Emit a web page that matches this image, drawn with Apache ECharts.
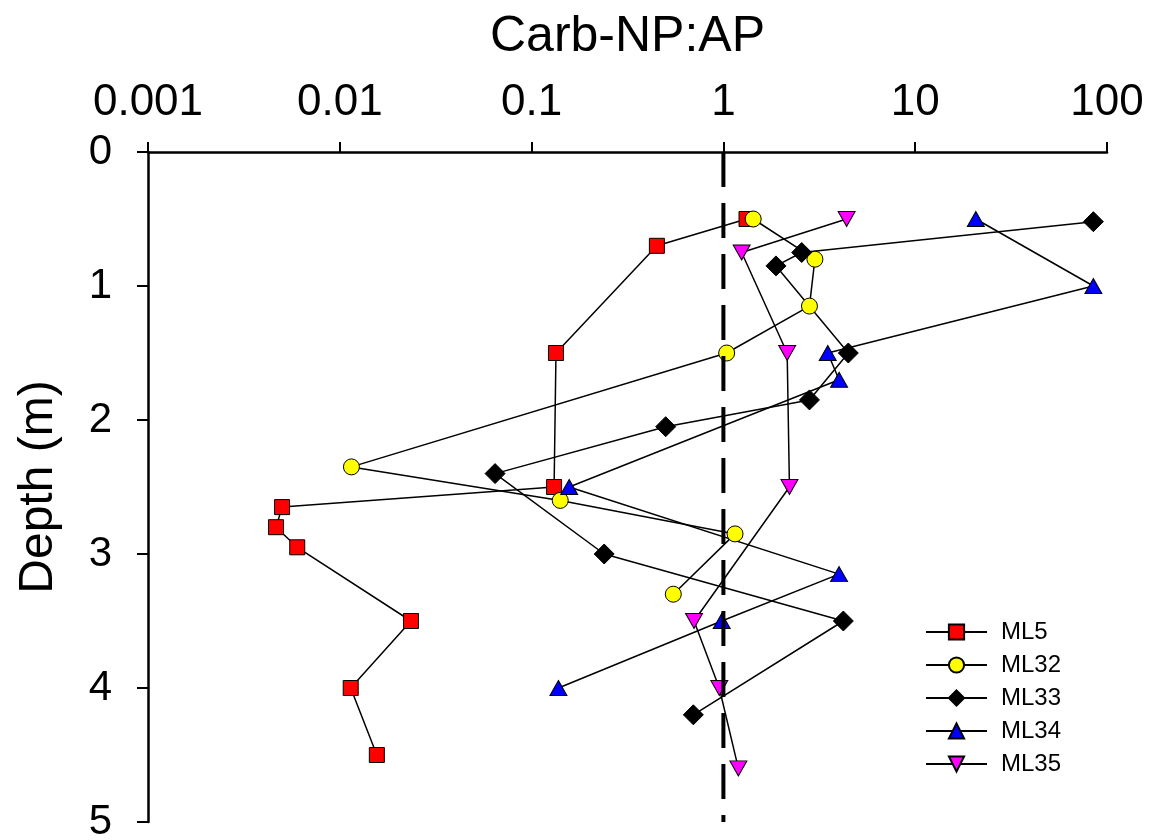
<!DOCTYPE html>
<html>
<head>
<meta charset="utf-8">
<script src="https://cdn.jsdelivr.net/npm/echarts@6/dist/echarts.min.js"></script>
<style>
html,body{margin:0;padding:0;background:#fff;}
#chart{width:1153px;height:840px;}
</style>
</head>
<body>
<div id="chart"></div>
<script>
// ---- data ----
const xTickLabels = ['0.001', '0.01', '0.1', '1', '10', '100'];
const yTickLabels = ['0', '1', '2', '3', '4', '5'];
const seriesNames = ['ML5', 'ML32', 'ML33', 'ML34', 'ML35'];

const ml5Depth  = [0.5, 0.7, 1.5, 2.5, 2.65, 2.8, 2.95, 3.5, 4.0, 4.5];
const ml5Value  = [1.32, 0.45, 0.134, 0.131, 0.0050, 0.00465, 0.0060, 0.0235, 0.0114, 0.0156];

const ml32Depth = [0.5, 0.8, 1.15, 1.5, 2.35, 2.6, 2.85, 3.3];
const ml32Value = [1.43, 3.0, 2.81, 1.04, 0.0115, 0.141, 1.15, 0.548];

const ml33Depth = [0.52, 0.75, 0.85, 1.5, 1.85, 2.05, 2.4, 3.0, 3.5, 4.2];
const ml33Value = [84.9, 2.56, 1.88, 4.48, 2.81, 0.50, 0.0645, 0.239, 4.22, 0.697];

const ml34Depth = [0.5, 1.0, 1.5, 1.7, 2.5, 3.15, 3.5, 4.0];
const ml34Value = [20.7, 84.9, 3.5, 4.01, 0.157, 4.01, 0.98, 0.138];

const ml35Depth = [0.5, 0.75, 1.5, 2.5, 3.5, 4.0, 4.6];
const ml35Value = [4.39, 1.245, 2.15, 2.21, 0.703, 0.952, 1.197];

const refLineValue = [1, 1];
const refLineDepth = [0, 5];

// ---- styling ----
const FONT = '"Liberation Sans", Arial, sans-serif';

function pairs(values, depths) {
  return values.map((v, i) => [v, depths[i]]);
}

function mkSeries(name, values, depths, symbol, size, color) {
  return {
    name: name,
    type: 'line',
    data: pairs(values, depths),
    symbol: symbol,
    symbolSize: size,
    showSymbol: true,
    showAllSymbol: true,
    itemStyle: { color: color, borderColor: '#000', borderWidth: 1 },
    lineStyle: { color: '#000', width: 1.5 },
    emphasis: { disabled: true },
    z: 2
  };
}

const chart = echarts.init(document.getElementById('chart'), null, { renderer: 'canvas' });

const option = {
  animation: false,
  backgroundColor: '#fff',
  grid: { left: 148, right: 46, top: 152, bottom: 18, containLabel: false, outerBoundsMode: 'none' },
  xAxis: {
    type: 'log',
    logBase: 10,
    min: 0.001,
    max: 100,
    position: 'top',
    name: 'Carb-NP:AP',
    nameLocation: 'middle',
    nameGap: 90,
    nameTextStyle: { fontSize: 50, color: '#000', fontFamily: FONT },
    axisLine: { show: true, lineStyle: { color: '#000', width: 2.5 } },
    axisTick: { show: true, inside: false, length: 10, lineStyle: { color: '#000', width: 2 } },
    minorTick: { show: false },
    splitLine: { show: false },
    axisLabel: {
      fontSize: 44, color: '#000', fontFamily: FONT, margin: 27,
      formatter: function (v) {
        const i = Math.round(Math.log10(v)) + 3;
        return xTickLabels[i] !== undefined ? xTickLabels[i] : '';
      }
    }
  },
  yAxis: {
    type: 'value',
    inverse: true,
    min: 0,
    max: 5,
    interval: 1,
    name: 'Depth (m)',
    nameLocation: 'middle',
    nameGap: 85,
    nameRotate: 90,
    nameTextStyle: { fontSize: 48, color: '#000', fontFamily: FONT },
    axisLine: { show: true, lineStyle: { color: '#000', width: 2.5 } },
    axisTick: { show: true, inside: false, length: 11, lineStyle: { color: '#000', width: 2 } },
    splitLine: { show: false },
    axisLabel: {
      fontSize: 42, color: '#000', fontFamily: FONT, margin: 36,
      formatter: function (v) {
        const i = Math.round(v);
        return yTickLabels[i] !== undefined ? yTickLabels[i] : '';
      }
    }
  },
  legend: {
    orient: 'vertical',
    left: 925,
    top: 620,
    padding: 0,
    itemWidth: 61,
    itemHeight: 19,
    itemGap: 9,
    data: seriesNames,
    textStyle: { fontSize: 24, color: '#000', fontFamily: FONT, padding: [0, 0, 0, 9] },
    selectedMode: false
  },
  series: [
    mkSeries(seriesNames[0], ml5Value, ml5Depth, 'rect', 15, '#ff0000'),
    mkSeries(seriesNames[1], ml32Value, ml32Depth, 'circle', 16, '#ffff00'),
    mkSeries(seriesNames[2], ml33Value, ml33Depth, 'diamond', 20, '#000000'),
    mkSeries(seriesNames[3], ml34Value, ml34Depth, 'triangle', [17, 15], '#0000ff'),
    mkSeries(seriesNames[4], ml35Value, ml35Depth, 'path://M0,0 L20,0 L10,18 Z', [17, 15], '#ff00ff'),
    {
      name: 'ref',
      type: 'line',
      data: pairs(refLineValue, refLineDepth),
      symbol: 'none',
      silent: true,
      lineStyle: { color: '#000', width: 4, type: [35, 16], cap: 'butt' },
      emphasis: { disabled: true },
      z: 5
    }
  ]
};

chart.setOption(option);
</script>
</body>
</html>
